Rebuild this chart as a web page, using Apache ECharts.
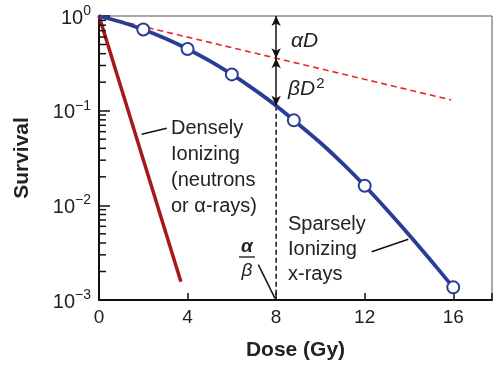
<!DOCTYPE html>
<html>
<head>
<meta charset="utf-8">
<script src="https://cdn.jsdelivr.net/npm/echarts@6/dist/echarts.min.js"></script>
<style>html,body{margin:0;padding:0;background:#fff}#c{width:500px;height:368px}</style>
</head>
<body>
<div id="c"></div>
<script>
// Sparsely ionizing (x-rays) smooth survival curve
const curveDose = [0, 1, 2, 3, 4, 5, 6, 7, 8, 8.8, 10, 11, 12, 13, 14, 15, 16];
const curveSurv = [1.0, 0.863, 0.719, 0.577, 0.448, 0.335, 0.2415, 0.168, 0.113, 0.079, 0.0458, 0.0277, 0.0161, 0.0090, 0.0049, 0.0026, 0.00136];
// Measured points (open circles)
const pointDose = [2, 4, 6, 8.8, 12, 16];
const pointSurv = [0.719, 0.448, 0.2415, 0.079, 0.0161, 0.00136];
// Single-hit (alpha D) component, red dashed line
const alphaDose = [0, 15.9];
const alphaSurv = [1.0, 0.13];
// Densely ionizing (neutrons or alpha-rays)
const denseDose = [0, 3.7];
const denseSurv = [1.0, 0.00156];
// alpha/beta dose and crossing values
const abDose = 8;
const abAlphaSurv = 0.358;
const abCurveSurv = 0.113;
// Axis ticks
const xTicks = [0, 4, 8, 12, 16];
const yMajor = [1, 0.1, 0.01, 0.001];
const yMinor = [];
[0.1, 0.01, 0.001].forEach(function (base) {
  for (let k = 2; k <= 9; k++) yMinor.push(+(base * k).toPrecision(3));
});

const zip = (a, b) => a.map((v, i) => [v, b[i]]);
const FONT = '"Liberation Sans", Arial, sans-serif';
const TXT = '#222';
const BLUE = '#2a3d96';
const DARKRED = '#a3191c';
const RED = '#e8262b';

const chart = echarts.init(document.getElementById('c'), null, { renderer: 'canvas' });
chart.setOption({
  animation: false,
  backgroundColor: '#fff',
  textStyle: { fontFamily: FONT },
  grid: { left: 99, right: 8, top: 16, bottom: 68, show: true, borderColor: '#555', borderWidth: 1 },
  xAxis: {
    type: 'value', min: 0, max: 17.75, interval: 4,
    name: 'Dose (Gy)', nameLocation: 'middle', nameGap: 40,
    nameTextStyle: { fontSize: 21, fontWeight: 'bold', color: TXT, fontFamily: FONT },
    axisLine: { lineStyle: { color: '#111', width: 2 } },
    axisTick: { inside: true, length: 7, lineStyle: { color: '#111', width: 1.5 } },
    axisLabel: {
      fontSize: 19, color: TXT, margin: 8, fontFamily: FONT,
      formatter: function (v) { return xTicks.indexOf(v) >= 0 ? String(v) : ''; }
    },
    splitLine: { show: false }
  },
  yAxis: {
    type: 'log', logBase: 10, min: 0.001, max: 1,
    name: 'Survival', nameLocation: 'middle', nameGap: 66,
    nameTextStyle: { fontSize: 21, fontWeight: 'bold', color: TXT, fontFamily: FONT },
    axisLine: { lineStyle: { color: '#111', width: 2 } },
    axisTick: { inside: true, length: 11, lineStyle: { color: '#111', width: 1.5 } },
    axisLabel: {
      margin: 8, color: TXT,
      formatter: function (v) {
        const e = Math.round(Math.log10(v));
        return '{b|10}{s|' + (e === 0 ? '0' : '\u2212' + (-e)) + '}';
      },
      rich: {
        b: { fontSize: 20, fontFamily: FONT, color: TXT, padding: [4, 0, 0, 0] },
        s: { fontSize: 14, fontFamily: FONT, color: TXT, padding: [0, 0, 10, 0] }
      }
    },
    splitLine: { show: false },
    minorTick: { show: false }
  },
  series: [
    {
      type: 'custom', silent: true, z: 5,
      data: yMinor.map(v => [0, v]),
      renderItem: function (params, api) {
        const p = api.coord([0, api.value(1)]);
        return { type: 'line', shape: { x1: p[0], y1: p[1], x2: p[0] + 7, y2: p[1] },
          style: { stroke: '#111', lineWidth: 1.5 } };
      }
    },
    {
      name: 'alphaD', type: 'line', data: zip(alphaDose, alphaSurv), symbol: 'none', z: 2,
      lineStyle: { color: RED, width: 1.6, type: [6, 4] }
    },
    {
      name: 'dense', type: 'line', data: zip(denseDose, denseSurv), symbol: 'none', z: 3,
      lineStyle: { color: DARKRED, width: 3.5 }
    },
    {
      name: 'ab', type: 'line', data: [[abDose, abCurveSurv], [abDose, 0.001]], symbol: 'none', z: 2,
      lineStyle: { color: '#111', width: 1.5, type: [5, 3] },
      markLine: {
        silent: true, symbol: ['arrow', 'arrow'], symbolSize: [7, 10],
        label: { show: false },
        lineStyle: { color: '#111', width: 1.5, type: 'solid' },
        data: [
          [{ coord: [abDose, 1] }, { coord: [abDose, abAlphaSurv] }],
          [{ coord: [abDose, abAlphaSurv] }, { coord: [abDose, abCurveSurv] }]
        ]
      }
    },
    {
      name: 'sparse', type: 'line', data: zip(curveDose, curveSurv), symbol: 'none', smooth: 0.4, z: 4,
      lineStyle: { color: BLUE, width: 3.8 }
    },
    {
      name: 'points', type: 'scatter', data: zip(pointDose, pointSurv), symbol: 'circle', symbolSize: 12, z: 6,
      itemStyle: { color: '#fff', borderColor: BLUE, borderWidth: 2, opacity: 1 }
    }
  ],
  graphic: [
    { type: 'text', left: 171, top: 115, z: 10,
      style: { text: 'Densely\nIonizing\n(neutrons\nor \u03b1-rays)', font: '20px ' + FONT, lineHeight: 26, fill: TXT } },
    { type: 'line', z: 10, shape: { x1: 141.7, y1: 134.3, x2: 166.7, y2: 128.3 }, style: { stroke: '#111', lineWidth: 1.5 } },
    { type: 'text', left: 288, top: 212, z: 10,
      style: { text: 'Sparsely\nIonizing\nx-rays', font: '20px ' + FONT, lineHeight: 25, fill: TXT } },
    { type: 'line', z: 10, shape: { x1: 371.7, y1: 251.7, x2: 408.3, y2: 239.3 }, style: { stroke: '#111', lineWidth: 1.5 } },
    { type: 'text', left: 291, top: 31, z: 10,
      style: { text: '\u03b1D', font: 'italic 21px ' + FONT, fill: TXT } },
    { type: 'text', left: 288, top: 76, z: 10,
      style: { text: '{a|\u03b2D}{s|2}', fill: TXT,
        rich: { a: { font: 'italic 21px ' + FONT, fill: TXT }, s: { font: '15px ' + FONT, fill: TXT, padding: [0, 0, 12, 1] } } } },
    { type: 'text', x: 247, y: 247, z: 10,
      style: { text: '\u03b1', font: 'italic bold 19px ' + FONT, fill: TXT, align: 'center', verticalAlign: 'middle' } },
    { type: 'line', z: 10, shape: { x1: 239, y1: 257, x2: 255, y2: 257 }, style: { stroke: '#111', lineWidth: 1.3 } },
    { type: 'text', x: 247, y: 271, z: 10,
      style: { text: '\u03b2', font: 'italic 19px ' + FONT, fill: TXT, align: 'center', verticalAlign: 'middle' } },
    { type: 'line', z: 10, shape: { x1: 258.3, y1: 264.7, x2: 275, y2: 298.3 }, style: { stroke: '#111', lineWidth: 1.5 } }
  ]
});
</script>
</body>
</html>
